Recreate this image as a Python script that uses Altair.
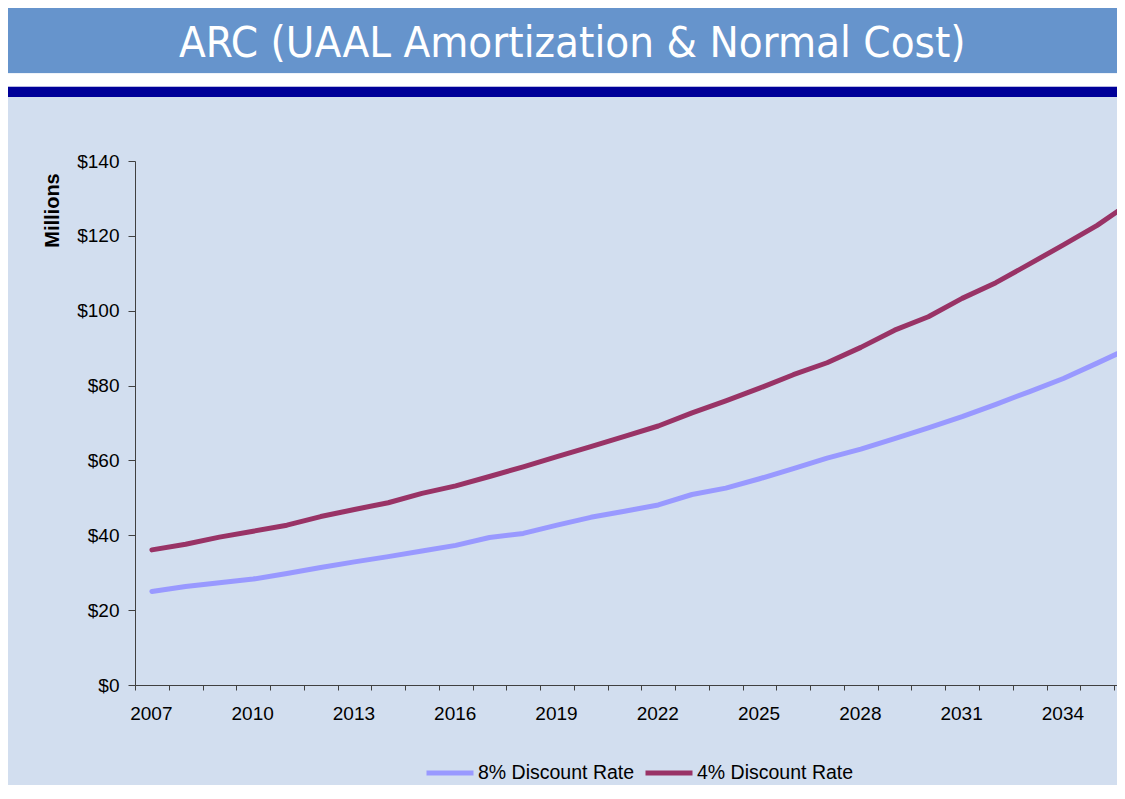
import altair as alt
import pandas as pd

# ---- data ----
YEARS = list(range(2007, 2037))
RATE_8 = [25.0, 26.3, 27.3, 28.3, 29.8, 31.4, 32.9, 34.3, 35.8, 37.3,
          39.4, 40.5, 42.7, 44.8, 46.4, 48.1, 50.9, 52.6, 55.1, 57.8,
          60.6, 63.0, 65.8, 68.7, 71.7, 75.0, 78.4, 81.9, 86.0, 90.2]
RATE_4 = [36.1, 37.6, 39.5, 41.1, 42.7, 45.0, 46.9, 48.7, 51.2, 53.2,
          55.7, 58.3, 61.0, 63.7, 66.4, 69.2, 72.7, 75.9, 79.3, 82.9,
          86.1, 90.2, 94.8, 98.4, 103.3, 107.5, 112.5, 117.6, 122.8, 129.0]
SERIES = ["8% Discount Rate", "4% Discount Rate"]
COLORS = ["#9999FF", "#993366"]
Y_TICKS = [0, 20, 40, 60, 80, 100, 120, 140]
X_TICKS = [y - 0.5 for y in YEARS]          # category boundaries
TITLE = "ARC (UAAL Amortization & Normal Cost)"
Y_TITLE = "Millions"

# ---- layout (plot area in px) ----
W, H = 982, 524
PAD = {"left": 127, "top": 153, "right": 0, "bottom": 100}
STEP = 33.76  # px per year

df = pd.DataFrame({
    "year": YEARS * 2,
    "value": RATE_8 + RATE_4,
    "series": [SERIES[0]] * len(YEARS) + [SERIES[1]] * len(YEARS),
})
one = pd.DataFrame({"k": [0]})

LIGHT = "#D2DEEF"
BAR = "#6694CC"
DARK = "#000099"
AXIS_FONT = "Liberation Sans, Arial, sans-serif"

band_title = alt.Chart(one).mark_rect(color=BAR).encode(
    x=alt.value(-PAD["left"]), x2=alt.value(W),
    y=alt.value(-PAD["top"]), y2=alt.value(-87.7))
band_white = alt.Chart(one).mark_rect(color="#FFFFFF").encode(
    x=alt.value(-PAD["left"]), x2=alt.value(W),
    y=alt.value(-87.7), y2=alt.value(-74.3))
band_dark = alt.Chart(one).mark_rect(color=DARK).encode(
    x=alt.value(-PAD["left"]), x2=alt.value(W),
    y=alt.value(-74.3), y2=alt.value(-64))
title_text = alt.Chart(one).mark_text(
    text=TITLE, color="#FFFFFF", fontSize=43.5,
    font="DejaVu Sans Condensed, Liberation Sans, sans-serif",
    align="center", baseline="alphabetic").encode(
    x=alt.value(437.3), y=alt.value(-104.3))

lines = alt.Chart(df).mark_line(strokeWidth=5, strokeCap="round",
                                strokeJoin="round", clip=True).encode(
    x=alt.X("year:Q",
            scale=alt.Scale(domain=[2006.5, 2006.5 + W / STEP], nice=False, zero=False),
            axis=alt.Axis(values=X_TICKS, title=None, grid=False,
                          tickSize=5, labelPadding=14, labelOffset=STEP / 2 - 1,
                          labelOverlap=False, labelFlush=False, labelBound=False,
                          labelExpr="(datum.value + 0.5 - 2007) % 3 == 0 ? format(datum.value + 0.5, 'd') : ''")),
    y=alt.Y("value:Q",
            scale=alt.Scale(domain=[0, 140], nice=False),
            axis=alt.Axis(values=Y_TICKS, format="$.0f", grid=False,
                          tickSize=7, labelPadding=9,
                          title=Y_TITLE, titleAngle=270, titleX=-83, titleY=49,
                          titleAlign="center", titleBaseline="middle",
                          titleFont=AXIS_FONT, titleFontSize=20,
                          titleFontWeight="bold", titleColor="#000000")),
    color=alt.Color("series:N",
                    scale=alt.Scale(domain=SERIES, range=COLORS),
                    legend=alt.Legend(title=None, orient="none",
                                      legendX=289, legendY=586,
                                      direction="horizontal",
                                      symbolType="stroke", symbolSize=2209,
                                      symbolStrokeWidth=5, symbolOpacity=1,
                                      labelFont=AXIS_FONT, labelFontSize=19.5,
                                      labelColor="#000000", labelOffset=2,
                                      columnPadding=0, padding=0)),
    order=alt.Order("year:Q"),
)

chart = alt.layer(band_title, band_white, band_dark, title_text, lines).properties(
    width=W, height=H,
    autosize=alt.AutoSizeParams(type="none"),
    padding=PAD,
    background=LIGHT,
).configure_view(stroke=None).configure_axis(
    labelFont=AXIS_FONT, labelFontSize=19, labelColor="#000000",
    domainColor="#404040", tickColor="#404040", domainWidth=1, tickWidth=1,
)

chart.save("out.html", embed_options={"renderer": "svg", "actions": False})
